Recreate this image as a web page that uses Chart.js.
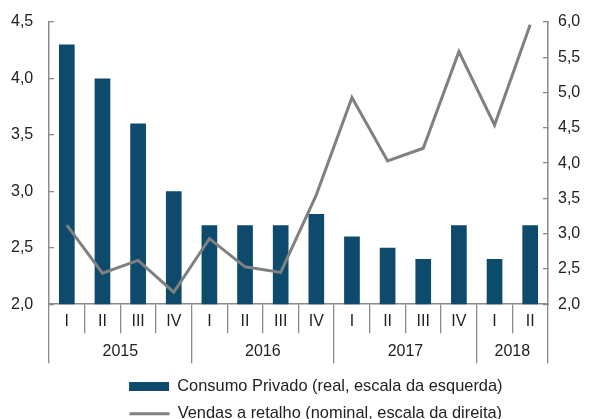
<!DOCTYPE html>
<html>
<head>
<meta charset="utf-8">
<script src="https://cdn.jsdelivr.net/npm/chart.js@4"></script>
<style>
html,body{margin:0;padding:0;overflow:hidden;background:#fff;}
canvas{display:block;}
</style>
</head>
<body>
<canvas id="c" width="589" height="432"></canvas>
<script>
const quarters = ['I','II','III','IV','I','II','III','IV','I','II','III','IV','I','II'];
const years = ['2015','2016','2017','2018'];
const quartersPerYear = [4, 4, 4, 2];
const consumo = [4.3, 4.0, 3.6, 3.0, 2.7, 2.7, 2.7, 2.8, 2.6, 2.5, 2.4, 2.7, 2.4, 2.7];
const vendas = [3.12, 2.44, 2.62, 2.17, 2.93, 2.53, 2.45, 3.55, 4.93, 4.03, 4.21, 5.58, 4.54, 5.96];
const leftTicks = ['2,0', '2,5', '3,0', '3,5', '4,0', '4,5'];
const rightTicks = ['2,0', '2,5', '3,0', '3,5', '4,0', '4,5', '5,0', '5,5', '6,0'];
const labelConsumo = 'Consumo Privado (real, escala da esquerda)';
const labelVendas = 'Vendas a retalho (nominal, escala da direita)';

// year group boundaries / centres in category index units
const yearBounds = [-0.5];
const yearCenters = [];
quartersPerYear.forEach(n => {
  const start = yearBounds[yearBounds.length - 1];
  yearCenters.push(start + n / 2);
  yearBounds.push(start + n);
});
const yearTickValues = [...yearBounds, ...yearCenters].sort((a, b) => a - b);

const AXIS = '#8a8a8a';
const TXT = '#222';
const FONT = 'Liberation Sans, Arial, sans-serif';

new Chart(document.getElementById('c'), {
  data: {
    labels: quarters,
    datasets: [
      {
        type: 'bar',
        label: labelConsumo,
        data: consumo,
        yAxisID: 'y',
        xAxisID: 'x',
        backgroundColor: '#0D4A6B',
        borderWidth: 0,
        categoryPercentage: 1,
        barPercentage: 0.44,
        pointStyle: 'rect',
        order: 2
      },
      {
        type: 'line',
        label: labelVendas,
        data: vendas,
        yAxisID: 'y2',
        xAxisID: 'x',
        borderColor: '#808080',
        backgroundColor: '#808080',
        borderWidth: 3,
        pointRadius: 0,
        pointHoverRadius: 0,
        pointStyle: 'line',
        tension: 0,
        fill: false,
        order: 1
      }
    ]
  },
  options: {
    responsive: false,
    animation: false,
    events: [],
    layout: { padding: { left: 11, right: -31.6, top: 22, bottom: 0 } },
    plugins: {
      tooltip: { enabled: false },
      legend: {
        position: 'bottom',
        align: 'center',
        labels: {
          sort: (a, b) => a.datasetIndex - b.datasetIndex,
          usePointStyle: true,
          pointStyleWidth: 40,
          boxWidth: 40,
          boxHeight: 9,
          padding: 11,
          color: TXT,
          font: { family: FONT, size: 16.4 }
        }
      }
    },
    scales: {
      x: {
        type: 'category',
        position: 'bottom',
        weight: 0,
        offset: true,
        afterFit: s => { s.height = 29; },
        border: { display: true, color: AXIS, width: 1.5 },
        grid: {
          offset: true,
          drawOnChartArea: false,
          drawTicks: true,
          tickLength: 29,
          color: AXIS,
          lineWidth: 1.3
        },
        ticks: {
          color: TXT,
          font: { family: FONT, size: 16 },
          padding: -21,
          maxRotation: 0,
          autoSkip: false
        }
      },
      year: {
        type: 'linear',
        axis: 'x',
        position: 'bottom',
        weight: 1,
        min: yearBounds[0],
        max: yearBounds[yearBounds.length - 1],
        offset: false,
        afterBuildTicks: s => { s.ticks = yearTickValues.map(v => ({ value: v })); },
        afterFit: s => { s.height = 34; },
        border: { display: false },
        grid: {
          drawOnChartArea: false,
          drawTicks: true,
          tickLength: 30,
          color: ctx => (ctx.tick && yearBounds.includes(ctx.tick.value)) ? AXIS : 'rgba(0,0,0,0)',
          lineWidth: 1.3
        },
        ticks: {
          autoSkip: false,
          maxRotation: 0,
          color: TXT,
          font: { family: FONT, size: 16 },
          padding: -21,
          callback: v => {
            const i = yearCenters.indexOf(v);
            return i >= 0 ? years[i] : '';
          }
        }
      },
      y: {
        type: 'linear',
        position: 'left',
        min: 2,
        max: 4.5,
        afterFit: s => { s.width = 38; },
        border: { display: true, color: AXIS, width: 1.5 },
        grid: {
          drawOnChartArea: false,
          drawTicks: true,
          tickLength: -5,
          color: AXIS,
          lineWidth: 1.3
        },
        ticks: {
          stepSize: 0.5,
          crossAlign: 'far',
          color: TXT,
          font: { family: FONT, size: 16 },
          padding: 0,
          callback: (v, i) => leftTicks[i]
        }
      },
      y2: {
        type: 'linear',
        position: 'right',
        min: 2,
        max: 6,
        afterFit: s => { s.width = 72.6; },
        border: { display: true, color: AXIS, width: 1.5 },
        grid: {
          drawOnChartArea: false,
          drawTicks: true,
          tickLength: -5,
          color: AXIS,
          lineWidth: 1.3
        },
        ticks: {
          stepSize: 0.5,
          color: TXT,
          font: { family: FONT, size: 16, lineHeight: 0.8 },
          padding: 15,
          callback: (v, i) => rightTicks[i]
        }
      }
    }
  }
});
</script>
</body>
</html>
